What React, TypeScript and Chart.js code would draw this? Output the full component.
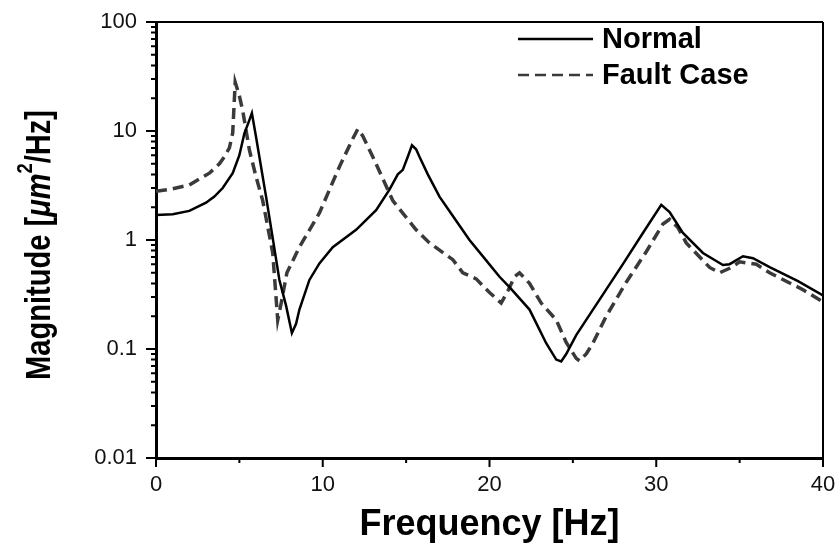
import React, { useEffect, useRef } from "react";
import { Chart, registerables } from "chart.js";

Chart.register(...registerables);

// ---- Data ----
const freqNormal = [0, 1, 2, 3, 3.5, 4, 4.6, 5.0, 5.3, 5.55, 5.75, 6.0, 6.6, 7.0, 7.4, 7.8, 8.15, 8.4, 8.6, 9.2, 9.8, 10.6, 12.0, 13.2, 14.0, 14.5, 14.8, 15.1, 15.35, 15.6, 15.8, 16.3, 17.0, 18.0, 18.8, 19.8, 20.6, 21.2, 22.4, 23.4, 24.0, 24.3, 24.6, 25.2, 26.6, 28.0, 29.2, 30.3, 30.8, 31.6, 32.8, 34.0, 34.4, 35.2, 35.8, 36.8, 38.5, 40];
const magNormal = [1.7, 1.72, 1.85, 2.2, 2.5, 3.0, 4.1, 6.0, 9.5, 12, 14.6, 8.8, 2.5, 1.04, 0.43, 0.25, 0.14, 0.17, 0.23, 0.43, 0.61, 0.86, 1.24, 1.88, 2.9, 4.0, 4.4, 5.8, 7.4, 6.8, 5.8, 4.0, 2.5, 1.5, 1.0, 0.65, 0.46, 0.37, 0.23, 0.113, 0.08, 0.077, 0.09, 0.134, 0.284, 0.6, 1.16, 2.1, 1.8, 1.16, 0.76, 0.59, 0.6, 0.71, 0.68, 0.565, 0.42, 0.31];

const freqFault = [0, 1, 2, 3.2, 3.8, 4.1, 4.4, 4.6, 4.75, 5.0, 5.2, 5.6, 6.0, 6.4, 7.0, 7.3, 7.5, 7.85, 8.6, 9.8, 11.0, 11.8, 12.1, 12.4, 13.0, 14.2, 15.6, 16.4, 17.8, 18.4, 19.2, 20.0, 20.7, 21.1, 21.5, 21.8, 22.4, 23.1, 24.0, 24.6, 25.2, 25.4, 25.8, 26.2, 27.0, 28.2, 29.4, 30.4, 30.8, 31.3, 31.8, 33.2, 33.8, 34.4, 35.0, 36.0, 36.8, 38.8, 40];
const magFault = [2.8, 2.95, 3.2, 4.1, 5.0, 5.8, 7.0, 9.6, 28, 21, 15.4, 6.7, 3.8, 2.3, 0.76, 0.185, 0.26, 0.5, 0.86, 1.77, 4.7, 8.5, 10.4, 9, 5.8, 2.3, 1.24, 0.94, 0.66, 0.5, 0.44, 0.33, 0.264, 0.34, 0.46, 0.5, 0.4, 0.264, 0.185, 0.115, 0.082, 0.078, 0.09, 0.113, 0.2, 0.41, 0.78, 1.4, 1.55, 1.3, 0.94, 0.56, 0.5, 0.55, 0.63, 0.6, 0.5, 0.35, 0.27];

const seriesLabels = ["Normal", "Fault Case"];
const xTickValues = [0, 10, 20, 30, 40];
const xTickLabels = ["0", "10", "20", "30", "40"];
const yTickExponents = [-2, -1, 0, 1, 2];
const yTickLabels = ["0.01", "0.1", "1", "10", "100"];
const xTitle = "Frequency [Hz]";
const yTitleParts = ["Magnitude [", "\u03bcm", "2", "/Hz]"];

const FONT = '"Liberation Sans", Arial, Helvetica, sans-serif';

function toPoints(xs: number[], ys: number[]) {
  return xs.map((x, i) => ({ x, y: ys[i] }));
}

const framePlugin = {
  id: "frameTicks",
  afterDraw(chart: any) {
    const ctx = chart.ctx;
    const { left, right, top, bottom } = chart.chartArea;
    const xs = chart.scales.x;
    const ys = chart.scales.y;
    ctx.save();
    ctx.strokeStyle = "#000";
    // top & right frame
    ctx.lineWidth = 2;
    ctx.beginPath();
    ctx.moveTo(left, top);
    ctx.lineTo(right, top);
    ctx.moveTo(right, top);
    ctx.lineTo(right, bottom + 1);
    ctx.stroke();
    // y ticks
    ctx.lineWidth = 2;
    ctx.beginPath();
    for (let e = -2; e <= 2; e++) {
      for (let m = 1; m <= 9; m++) {
        const v = m * Math.pow(10, e);
        if (v > 100.0001) break;
        const py = ys.getPixelForValue(v);
        const len = m === 1 ? 10 : 5;
        ctx.moveTo(left, py);
        ctx.lineTo(left - len, py);
      }
    }
    // x ticks
    for (let v = 0; v <= 40; v += 5) {
      const px = xs.getPixelForValue(v);
      const len = v % 10 === 0 ? 9 : 5;
      ctx.moveTo(px, bottom);
      ctx.lineTo(px, bottom + len);
    }
    ctx.stroke();

    // y title (rotated)
    const fs = 35;
    const supFs = 22;
    ctx.fillStyle = "#000";
    ctx.translate(50, 245);
    ctx.rotate(-Math.PI / 2);
    const fonts = [
      `bold ${fs}px ${FONT}`,
      `italic bold ${fs}px ${FONT}`,
      `bold ${supFs}px ${FONT}`,
      `bold ${fs}px ${FONT}`,
    ];
    const widths = yTitleParts.map((t, i) => {
      ctx.font = fonts[i];
      return ctx.measureText(t).width;
    });
    const total = widths.reduce((a, b) => a + b, 0);
    const target = 270;
    const sx = target / total;
    ctx.scale(sx, 1);
    let cx = -total / 2;
    ctx.textBaseline = "alphabetic";
    ctx.textAlign = "left";
    yTitleParts.forEach((t, i) => {
      ctx.font = fonts[i];
      const dy = i === 2 ? -18 : 0;
      ctx.fillText(t, cx, dy);
      cx += widths[i];
    });
    ctx.restore();

    // legend
    ctx.save();
    const rows = [39, 75];
    chart.data.datasets.forEach((ds: any, i: number) => {
      const y = rows[i];
      ctx.strokeStyle = ds.borderColor;
      ctx.lineWidth = 2.5;
      ctx.setLineDash(ds.borderDash || []);
      ctx.beginPath();
      ctx.moveTo(518, y);
      ctx.lineTo(593, y);
      ctx.stroke();
      ctx.setLineDash([]);
      ctx.fillStyle = "#000";
      ctx.font = `bold 29px ${FONT}`;
      ctx.textAlign = "left";
      ctx.textBaseline = "middle";
      ctx.fillText(ds.label, 602, y + 1);
    });
    ctx.restore();
  },
};

export default function App() {
  const canvasRef = useRef<HTMLCanvasElement | null>(null);

  useEffect(() => {
    const canvas = canvasRef.current;
    if (!canvas) return;
    const chart = new Chart(canvas, {
      type: "line",
      data: {
        datasets: [
          {
            label: seriesLabels[0],
            data: toPoints(freqNormal, magNormal),
            borderColor: "#000000",
            borderWidth: 2.5,
            pointRadius: 0,
            tension: 0,
            fill: false,
          },
          {
            label: seriesLabels[1],
            data: toPoints(freqFault, magFault),
            borderColor: "#3a3a3a",
            borderWidth: 3.5,
            borderDash: [11, 6],
            pointRadius: 0,
            tension: 0,
            fill: false,
          },
        ],
      },
      options: {
        responsive: false,
        animation: false,
        events: [],
        layout: { padding: { top: 22, right: 17, left: 0, bottom: 0 } },
        plugins: {
          legend: { display: false },
          tooltip: { enabled: false },
        },
        scales: {
          x: {
            type: "linear",
            min: 0,
            max: 40,
            afterBuildTicks: (scale: any) => {
              scale.ticks = xTickValues.map((v) => ({ value: v }));
            },
            ticks: {
              autoSkip: false,
              maxRotation: 0,
              padding: 14,
              color: "#111",
              font: { family: FONT, size: 22 },
              callback: (v: any) => {
                const i = xTickValues.indexOf(Number(v));
                return i >= 0 ? xTickLabels[i] : "";
              },
            },
            grid: { display: false, drawTicks: false },
            border: { display: true, color: "#000", width: 3 },
            title: {
              display: true,
              text: xTitle,
              color: "#000",
              font: { family: FONT, size: 36, weight: "bold" },
              padding: { top: 0, bottom: 0 },
            },
            afterFit: (scale: any) => {
              scale.height = 89;
              scale.paddingLeft = 0;
              scale.paddingRight = 0;
            },
          },
          y: {
            type: "logarithmic",
            min: 0.01,
            max: 100,
            afterBuildTicks: (scale: any) => {
              scale.ticks = yTickExponents.map((e) => ({ value: Math.pow(10, e), major: true }));
            },
            ticks: {
              autoSkip: false,
              padding: 19,
              color: "#111",
              font: { family: FONT, size: 22 },
              callback: (v: any) => {
                const e = Math.round(Math.log10(Number(v)));
                const i = yTickExponents.indexOf(e);
                return i >= 0 ? yTickLabels[i] : "";
              },
            },
            grid: { display: false, drawTicks: false },
            border: { display: true, color: "#000", width: 3 },
            title: { display: false },
            afterFit: (scale: any) => {
              scale.width = 156;
              scale.paddingTop = 0;
              scale.paddingBottom = 0;
            },
          },
        },
      } as any,
      plugins: [framePlugin],
    });
    return () => chart.destroy();
  }, []);

  return (
    <div style={{ position: "fixed", left: 0, top: 0, width: 840, height: 547, background: "#fff" }}>
      <canvas ref={canvasRef} width={840} height={547} style={{ display: "block" }} />
    </div>
  );
}
